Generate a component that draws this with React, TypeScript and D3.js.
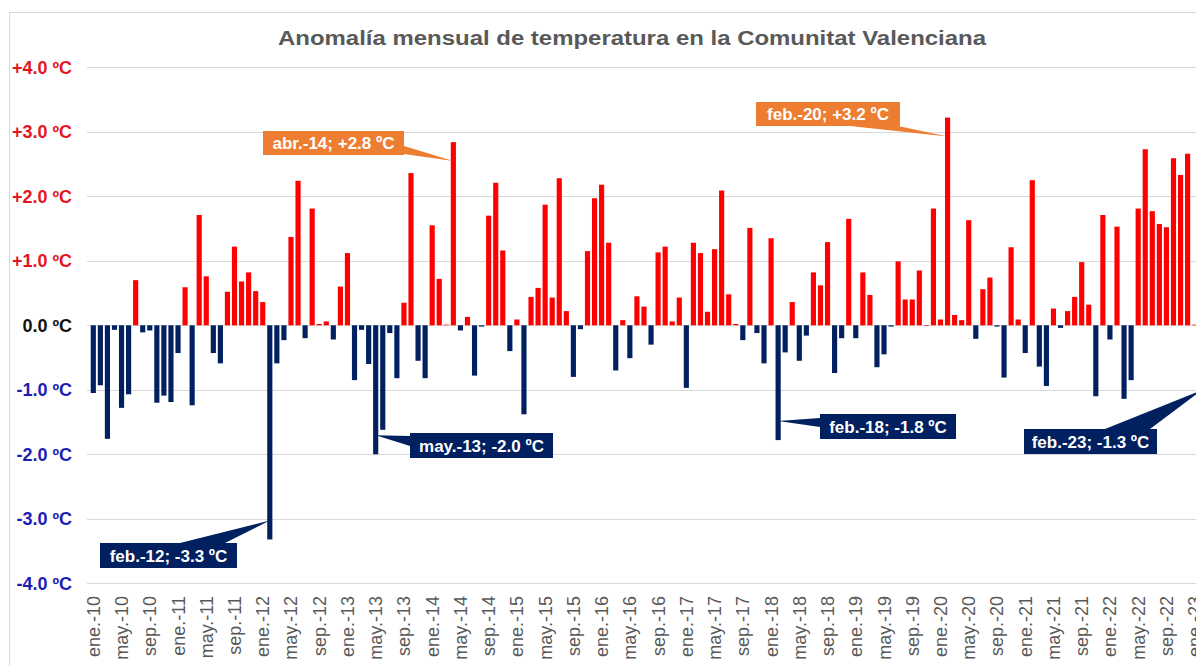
import React from "react";
import * as d3 from "d3";

// Anomalía mensual de temperatura, Comunitat Valenciana (ene.-2010 .. feb.-2023)
const W = 1196;
const H = 666;

const MONTHS = ["ene.", "feb.", "mar.", "abr.", "may.", "jun.", "jul.", "ago.", "sep.", "oct.", "nov.", "dic."];
const YEARS = ["10", "11", "12", "13", "14", "15", "16", "17", "18", "19", "20", "21", "22", "23"];

const anom2010 = [-1.05, -0.93, -1.76, -0.07, -1.28, -1.07, 0.7, -0.11, -0.08, -1.2, -1.09, -1.19];
const anom2011 = [-0.43, 0.59, -1.24, 1.71, 0.76, -0.43, -0.59, 0.52, 1.22, 0.68, 0.82, 0.53];
const anom2012 = [0.36, -3.32, -0.59, -0.23, 1.37, 2.24, -0.2, 1.81, 0.02, 0.06, -0.22, 0.6];
const anom2013 = [1.12, -0.85, -0.07, -0.6, -2.0, -1.62, -0.12, -0.82, 0.35, 2.36, -0.55, -0.82];
const anom2014 = [1.55, 0.72, 0.01, 2.84, -0.08, 0.13, -0.78, -0.02, 1.7, 2.21, 1.16, -0.4];
const anom2015 = [0.09, -1.38, 0.44, 0.58, 1.87, 0.43, 2.28, 0.22, -0.8, -0.06, 1.15, 1.97];
const anom2016 = [2.18, 1.28, -0.7, 0.08, -0.51, 0.45, 0.29, -0.3, 1.13, 1.22, 0.06, 0.43];
const anom2017 = [-0.97, 1.28, 1.12, 0.21, 1.18, 2.09, 0.48, 0.02, -0.23, 1.51, -0.12, -0.59];
const anom2018 = [1.35, -1.78, -0.42, 0.36, -0.55, -0.16, 0.82, 0.62, 1.29, -0.74, -0.2, 1.65];
const anom2019 = [-0.2, 0.82, 0.47, -0.65, -0.45, -0.02, 0.99, 0.4, 0.4, 0.85, 0.0, 1.81];
const anom2020 = [0.09, 3.22, 0.16, 0.08, 1.63, -0.21, 0.56, 0.74, -0.02, -0.81, 1.21, 0.09];
const anom2021 = [-0.43, 2.25, -0.64, -0.94, 0.26, -0.04, 0.22, 0.44, 0.98, 0.32, -1.1, 1.71];
const anom2022 = [-0.22, 1.53, -1.14, -0.85, 1.81, 2.73, 1.77, 1.57, 1.52, 2.59, 2.33, 2.66];
const anom2023 = [0.01, -1.3];

const anomalies = [
  ...anom2010, ...anom2011, ...anom2012, ...anom2013, ...anom2014, ...anom2015, ...anom2016,
  ...anom2017, ...anom2018, ...anom2019, ...anom2020, ...anom2021, ...anom2022, ...anom2023,
];
const categories = anomalies.map((_, i) => MONTHS[i % 12] + "-" + YEARS[Math.floor(i / 12)]);

const yTicks = [4, 3, 2, 1, 0, -1, -2, -3, -4];
const yTickLabels = ["+4.0 ºC", "+3.0 ºC", "+2.0 ºC", "+1.0 ºC", "0.0 ºC", "-1.0 ºC", "-2.0 ºC", "-3.0 ºC", "-4.0 ºC"];

// highlighted months (callouts)
const calloutMonths = ["feb.-12", "may.-13", "abr.-14", "feb.-18", "feb.-20", "feb.-23"];
const calloutTexts = ["feb.-12; -3.3 ºC", "may.-13; -2.0 ºC", "abr.-14; +2.8 ºC", "feb.-18; -1.8 ºC", "feb.-20; +3.2 ºC", "feb.-23; -1.3 ºC"];

// callout box placement: [x, y, w, h] and the edge segment the pointer leaves from
const calloutLayout: Record<string, { box: number[]; base: number[][] }> = {
  "feb.-12": { box: [100, 543, 137, 25], base: [[180, 543], [225, 543]] },
  "may.-13": { box: [410, 433, 143, 25], base: [[410, 436], [410, 446]] },
  "abr.-14": { box: [263, 131, 141, 24], base: [[404, 146], [404, 154]] },
  "feb.-18": { box: [820, 414, 136, 25], base: [[820, 418], [820, 427]] },
  "feb.-20": { box: [756, 102, 144, 24], base: [[850, 126], [898, 126]] },
  "feb.-23": { box: [1024, 429, 133, 25], base: [[1105, 429], [1150, 429]] },
};

const RED = "#ff0000";
const NAVY = "#002060";
const ORANGE = "#ed7d31";
const FONT = "'Liberation Sans', Arial, sans-serif";

export default function App() {
  const step = 7.06;
  const x0 = 89.77;
  const x = d3
    .scaleBand<string>()
    .domain(categories)
    .range([x0, x0 + step * categories.length])
    .paddingInner(0.27)
    .paddingOuter(0.135);
  const y = d3.scaleLinear().domain([-4, 4]).range([583.3, 67.3]);
  const xc = (c: string) => (x(c) as number) + x.bandwidth() / 2;

  const tickLabelColor = (v: number) => (v > 0 ? "#e3161e" : v < 0 ? "#1d1db5" : "#111111");

  return (
    <svg width={W} height={H} style={{ position: "absolute", left: 0, top: 0, background: "#fff" }} fontFamily={FONT}>
      <rect x={0} y={0} width={W} height={H} fill="#ffffff" />
      {/* chart frame */}
      <line x1={9.5} x2={9.5} y1={12} y2={H} stroke="#d9d9d9" />
      <line x1={9} x2={W} y1={12.5} y2={12.5} stroke="#d9d9d9" />

      <text x={632} y={45} textAnchor="middle" fontSize={20} fontWeight="bold" fill="#595959" textLength={708} lengthAdjust="spacingAndGlyphs">
        Anomalía mensual de temperatura en la Comunitat Valenciana
      </text>

      {/* gridlines */}
      {yTicks.map((t) => (
        <line key={"g" + t} x1={87} x2={W} y1={Math.round(y(t)) + 0.5} y2={Math.round(y(t)) + 0.5} stroke="#d9d9d9" strokeWidth={1} />
      ))}

      {/* y tick labels */}
      {yTicks.map((t, i) => (
        <text key={"yl" + t} x={72} y={y(t)} dy="0.36em" textAnchor="end" fontSize={18} fontWeight="bold" fill={tickLabelColor(t)}>
          {yTickLabels[i]}
        </text>
      ))}

      {/* bars */}
      {anomalies.map((v, i) => {
        const c = categories[i];
        const y0 = y(0);
        const yv = y(v);
        return (
          <rect
            key={c}
            x={x(c)}
            width={x.bandwidth()}
            y={Math.min(y0, yv)}
            height={Math.max(0.6, Math.abs(yv - y0))}
            fill={v >= 0 ? RED : NAVY}
          />
        );
      })}

      {/* x tick labels, every 4 months */}
      {categories.map((c, i) =>
        i % 4 === 0 ? (
          <text
            key={"xl" + c}
            transform={`translate(${xc(c)},596) rotate(-90)`}
            x={0}
            y={0}
            dy="0.36em"
            textAnchor="end"
            fontSize={18}
            fill="#595959"
          >
            {c}
          </text>
        ) : null
      )}

      {/* callouts */}
      {calloutMonths.map((m, k) => {
        const i = categories.indexOf(m);
        const v = anomalies[i];
        const lay = calloutLayout[m];
        const [bx, by, bw, bh] = lay.box;
        const tipX = xc(m);
        const tipY = y(v) + (v >= 0 ? 19 : -19);
        const fill = v >= 0 ? ORANGE : NAVY;
        const pts = [lay.base[0], [tipX, tipY], lay.base[1]].map((p) => p.join(",")).join(" ");
        return (
          <g key={"co" + m}>
            <polygon points={pts} fill={fill} />
            <rect x={bx} y={by} width={bw} height={bh} fill={fill} />
            <text x={bx + bw / 2} y={by + bh / 2} dy="0.36em" textAnchor="middle" fontSize={17} fontWeight="bold" fill="#ffffff">
              {calloutTexts[k]}
            </text>
          </g>
        );
      })}
    </svg>
  );
}
